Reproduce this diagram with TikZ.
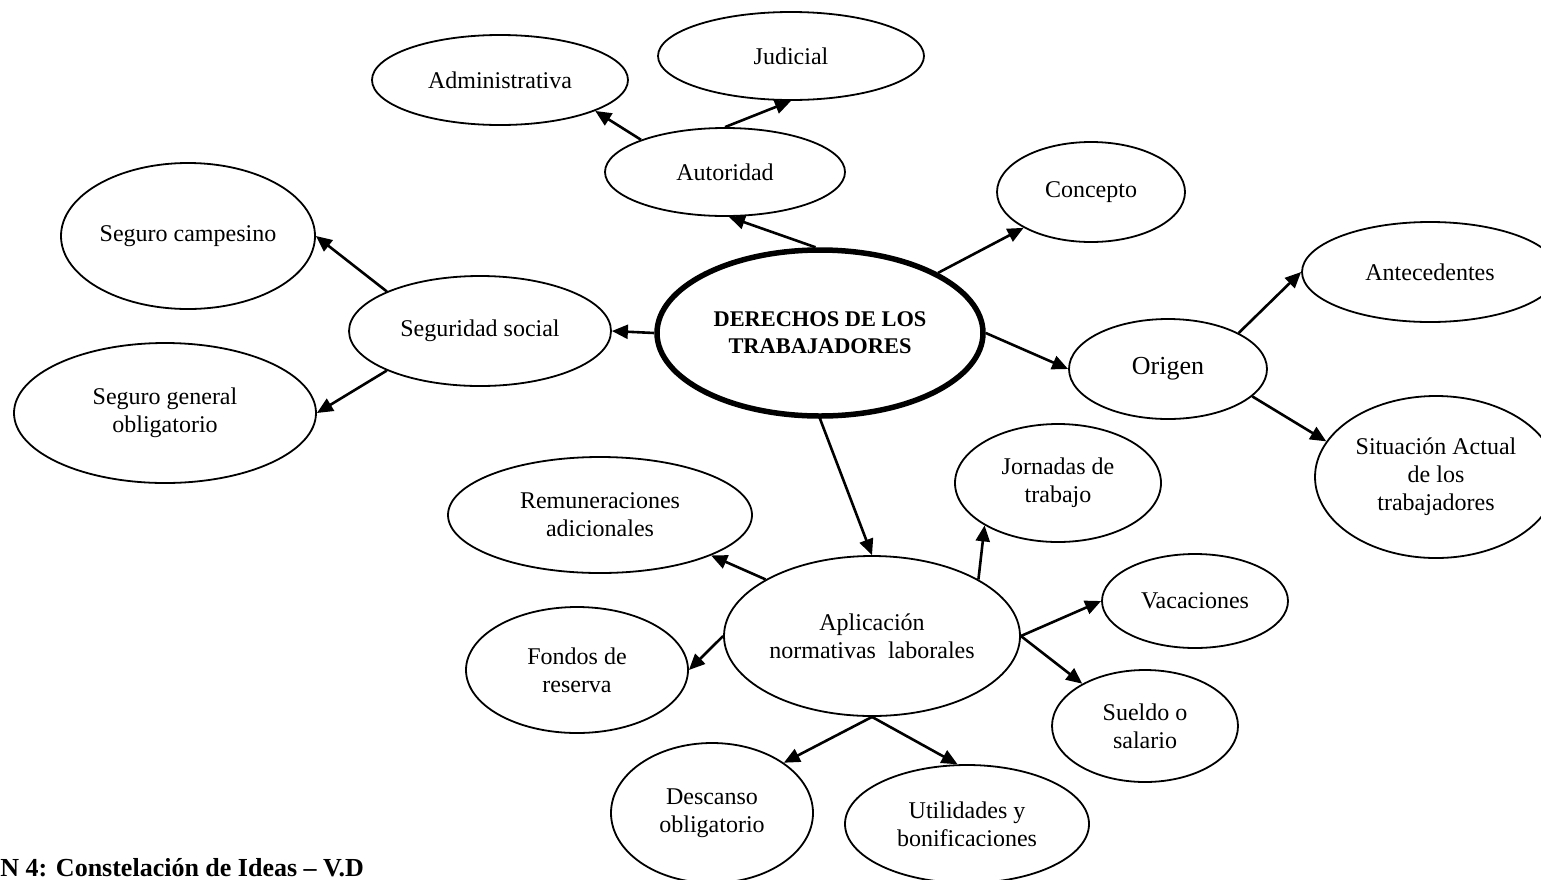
\documentclass[tikz,border=0pt]{standalone}
\usepackage{fontspec}
\setmainfont{Liberation Serif}
\usetikzlibrary{shapes.geometric, arrows.meta}

\begin{document}
\begin{tikzpicture}[
  x=0.5pt, y=-0.5pt,
  every node/.style={font=\fontsize{12}{14}\selectfont, align=center},
  bub/.style={ellipse, draw=black, line width=0.9pt, inner sep=0pt},
  sz/.style 2 args={minimum width=#1pt, minimum height=#2pt},
  link/.style={-{Triangle[length=8pt, width=7pt]}, line width=1.3pt}
]
\useasboundingbox (0,0) rectangle (1541,879);

\node[bub, sz={163}{83}, line width=2.75pt, font=\bfseries\fontsize{11.2}{13.5}\selectfont] (ctr) at (820,333) {DERECHOS DE LOS\\TRABAJADORES};

\node[bub, sz={120}{44}] (aut) at (725,172) {Autoridad};
\node[bub, sz={128}{45}] (adm) at (500,80) {Administrativa};
\node[bub, sz={133}{44}] (jud) at (791,56) {Judicial};
\node[bub, sz={94}{50}] (con) at (1091,192) {Concepto};

\node[bub, sz={131}{55}] (ss) at (480,331) {Seguridad social};
\node[bub, sz={127}{73}] (sc) at (188,236) {Seguro campesino};
\node[bub, sz={151}{70}] (sg) at (165,413) {Seguro general\\obligatorio};

\node[bub, sz={99}{50}, font=\fontsize{13}{15}\selectfont] (ori) at (1168,369) {Origen};
\node[bub, sz={128}{50}] (ant) at (1430,272) {Antecedentes};
\node[bub, sz={121}{81}] (sit) at (1436,477) {Situación Actual\\de los\\trabajadores};

\node[bub, sz={148}{80}] (apl) at (872,636) {Aplicación\\normativas\ \ laborales};
\node[bub, sz={152}{58}] (rem) at (600,515) {Remuneraciones\\adicionales};
\node[bub, sz={103}{59}] (jor) at (1058,483) {Jornadas de\\trabajo};
\node[bub, sz={111}{63}] (fon) at (577,670) {Fondos de\\reserva};
\node[bub, sz={93}{47}] (vac) at (1195,601) {Vacaciones};
\node[bub, sz={93}{56}] (sue) at (1145,726) {Sueldo o\\salario};
\node[bub, sz={101}{70}] (des) at (712,813) {Descanso\\obligatorio};
\node[bub, sz={122}{59}] (uti) at (967,824) {Utilidades y\\bonificaciones};

\node[font=\bfseries\fontsize{13}{15}\selectfont, anchor=base west, inner sep=0pt] (cap) at (0,876) {N 4: Constelación de Ideas – V.D};

% flechas
\draw[link] (ctr.93) -- (aut.275);
\draw[link] (aut.159) -- (adm.342);
\draw[link] (aut.north) -- (jud.south);
\draw[link] (ctr.27) -- (con.208);
\draw[link] (ctr.west) -- (ss.east);
\draw[link] (ctr.east) -- (ori.west);
\draw[link] (ctr.south) -- (apl.north);
\draw[link] (ss.157) -- (sc.east);
\draw[link] (ss.203) -- (sg.east);
\draw[link] (ori.27) -- (ant.west);
\draw[link] (ori.342) -- (sit.162);
\draw[link] (apl.152) -- (rem.340);
\draw[link] (apl.28) -- (jor.210);
\draw[link] (apl.west) -- (fon.east);
\draw[link] (apl.east) -- (vac.west);
\draw[link] (apl.east) -- (sue.146);
\draw[link] (apl.south) -- (des.35);
\draw[link] (apl.south) -- (uti.99);
\end{tikzpicture}
\end{document}
